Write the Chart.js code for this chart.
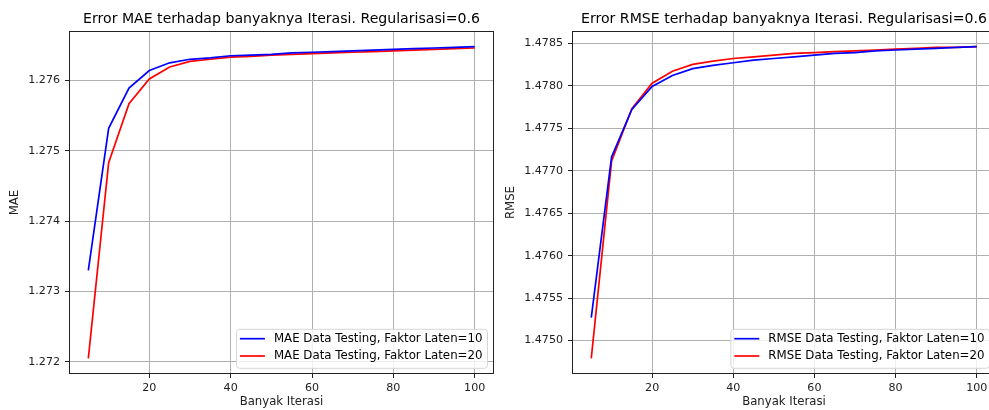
<!DOCTYPE html>
<html>
<head>
<meta charset="utf-8">
<script src="https://cdn.jsdelivr.net/npm/chart.js@4.4.0/dist/chart.umd.min.js"></script>
<style>
html, body { margin: 0; padding: 0; background: #fff; overflow: hidden; width: 989px; height: 410px; }
#maeChart { position: absolute; left: 0; top: 0; }
#rmseChart { position: absolute; left: 500px; top: 0; }
</style>
</head>
<body>
<canvas id="maeChart" width="500" height="410"></canvas>
<canvas id="rmseChart" width="500" height="410"></canvas>
<script>
// Data
const iterations = [5, 10, 15, 20, 25, 30, 35, 40, 45, 50, 55, 60, 65, 70, 75, 80, 85, 90, 95, 100];

const maeLaten10 = [1.27330, 1.27532, 1.27589, 1.27614, 1.27625, 1.27630, 1.27632, 1.27635, 1.27636, 1.27637,
                    1.27639, 1.27640, 1.27641, 1.27642, 1.27643, 1.27644, 1.27645, 1.27646, 1.27647, 1.27648];
const maeLaten20 = [1.27205, 1.27483, 1.27567, 1.27602, 1.27619, 1.27627, 1.27630, 1.27633, 1.27634, 1.27636,
                    1.27637, 1.27638, 1.27639, 1.27640, 1.27641, 1.27642, 1.27643, 1.27644, 1.27645, 1.27646];

const rmseLaten10 = [1.47527, 1.47716, 1.47772, 1.47799, 1.47812, 1.47820, 1.47824, 1.47827, 1.47830, 1.47832,
                     1.47834, 1.47836, 1.47838, 1.47839, 1.47841, 1.47842, 1.47843, 1.47844, 1.47845, 1.47846];
const rmseLaten20 = [1.47479, 1.47711, 1.47773, 1.47803, 1.47817, 1.47825, 1.47829, 1.47832, 1.47834, 1.47836,
                     1.47838, 1.47839, 1.47840, 1.47841, 1.47842, 1.47843, 1.47844, 1.47845, 1.47845, 1.47846];

const iterTicks = [20, 40, 60, 80, 100];
const maeTicks = [1.272, 1.273, 1.274, 1.275, 1.276];
const rmseTicks = [1.4750, 1.4755, 1.4760, 1.4765, 1.4770, 1.4775, 1.4780, 1.4785];

const FONT = 'DejaVu Sans';

// matplotlib-like 5% margins around the data
function padRange(values) {
    const lo = Math.min(...values), hi = Math.max(...values);
    const m = (hi - lo) * 0.05;
    return { min: lo - m, max: hi + m };
}

function toPoints(ys) {
    return iterations.map((x, i) => ({ x: x, y: ys[i] }));
}

// Box around the whole plot area
const frame = {
    id: 'frame',
    afterDraw(chart) {
        const a = chart.chartArea;
        const ctx = chart.ctx;
        ctx.save();
        ctx.strokeStyle = '#222';
        ctx.lineWidth = 1;
        ctx.strokeRect(Math.round(a.left) + 0.5, Math.round(a.top) + 0.5,
                       Math.round(a.right - a.left) - 1, Math.round(a.bottom - a.top) - 1);
        ctx.restore();
    }
};

// Legend in the lower right corner, inside the plot
const legendBox = {
    id: 'legendBox',
    afterDraw(chart) {
        const ctx = chart.ctx;
        const a = chart.chartArea;
        const sets = chart.data.datasets;
        ctx.save();
        ctx.font = '11.8px "' + FONT + '"';
        const textW = Math.max(...sets.map(d => ctx.measureText(d.label).width));
        const boxW = 3.4 + 25 + 9 + textW + 5;
        const boxH = 39;
        const x0 = a.right - 6.5 - boxW;
        const y0 = a.bottom - 5.7 - boxH;
        ctx.beginPath();
        ctx.roundRect(x0, y0, boxW, boxH, 3);
        ctx.fillStyle = 'rgba(255,255,255,0.8)';
        ctx.fill();
        ctx.strokeStyle = '#d6d6d6';
        ctx.lineWidth = 1;
        ctx.stroke();
        sets.forEach((d, i) => {
            const y = y0 + 9.4 + i * 17.3;
            ctx.strokeStyle = d.borderColor;
            ctx.lineWidth = d.borderWidth;
            ctx.beginPath();
            ctx.moveTo(x0 + 3.4, y);
            ctx.lineTo(x0 + 28.4, y);
            ctx.stroke();
            ctx.fillStyle = '#000';
            ctx.textBaseline = 'middle';
            ctx.fillText(d.label, x0 + 37.4, y);
        });
        ctx.restore();
    }
};

function makeChart(canvasId, cfg) {
    const xr = padRange(iterations);
    const yr = padRange(cfg.series[0].concat(cfg.series[1]));
    return new Chart(document.getElementById(canvasId).getContext('2d'), {
        type: 'line',
        data: {
            datasets: [
                { label: cfg.labels[0], data: toPoints(cfg.series[0]), borderColor: '#0000ff', borderWidth: 1.7, pointRadius: 0, tension: 0 },
                { label: cfg.labels[1], data: toPoints(cfg.series[1]), borderColor: '#ff0000', borderWidth: 1.7, pointRadius: 0, tension: 0 }
            ]
        },
        options: {
            responsive: false,
            animation: false,
            devicePixelRatio: 1,
            layout: { padding: { left: 0, right: cfg.rightPad, top: 0, bottom: 0 } },
            plugins: {
                legend: { display: false },
                tooltip: { enabled: false },
                title: {
                    display: true,
                    text: cfg.title,
                    fullSize: false,
                    color: '#000',
                    font: { family: FONT, size: 14.1, weight: 'normal', lineHeight: 1.2 },
                    padding: { top: 11, bottom: 3.1 }
                }
            },
            scales: {
                x: {
                    type: 'linear',
                    min: xr.min,
                    max: xr.max,
                    afterBuildTicks: s => { s.ticks = iterTicks.map(v => ({ value: v })); },
                    afterFit: s => { s.height = 36; },
                    ticks: { color: '#222', font: { family: FONT, size: 11.1 }, padding: 3, maxRotation: 0 },
                    grid: { color: '#b0b0b0', lineWidth: 1, tickColor: '#222', tickLength: 4 },
                    border: { display: false },
                    title: { display: true, text: 'Banyak Iterasi', color: '#222', font: { family: FONT, size: 11.7 }, padding: { top: 0, bottom: 1 } }
                },
                y: {
                    type: 'linear',
                    min: yr.min,
                    max: yr.max,
                    afterBuildTicks: s => { s.ticks = cfg.yTicks.map(v => ({ value: v })); },
                    afterFit: s => { s.width = cfg.yWidth; },
                    ticks: { color: '#222', font: { family: FONT, size: 11.1 }, padding: 5, callback: v => v.toFixed(cfg.decimals) },
                    grid: { color: '#b0b0b0', lineWidth: 1, tickColor: '#222', tickLength: 4 },
                    border: { display: false },
                    title: { display: true, text: cfg.yLabel, color: '#222', font: { family: FONT, size: 11.7 }, padding: { top: cfg.yTitlePad, bottom: 0 } }
                }
            }
        },
        plugins: [frame, legendBox]
    });
}

makeChart('maeChart', {
    title: 'Error MAE terhadap banyaknya Iterasi. Regularisasi=0.6',
    yLabel: 'MAE',
    labels: ['MAE Data Testing, Faktor Laten=10', 'MAE Data Testing, Faktor Laten=20'],
    series: [maeLaten10, maeLaten20],
    yTicks: maeTicks,
    decimals: 3,
    yWidth: 69,
    yTitlePad: 8,
    rightPad: 6
});

makeChart('rmseChart', {
    title: 'Error RMSE terhadap banyaknya Iterasi. Regularisasi=0.6',
    yLabel: 'RMSE',
    labels: ['RMSE Data Testing, Faktor Laten=10', 'RMSE Data Testing, Faktor Laten=20'],
    series: [rmseLaten10, rmseLaten20],
    yTicks: rmseTicks,
    decimals: 4,
    yWidth: 72,
    yTitlePad: 4,
    rightPad: 4
});
</script>
</body>
</html>
